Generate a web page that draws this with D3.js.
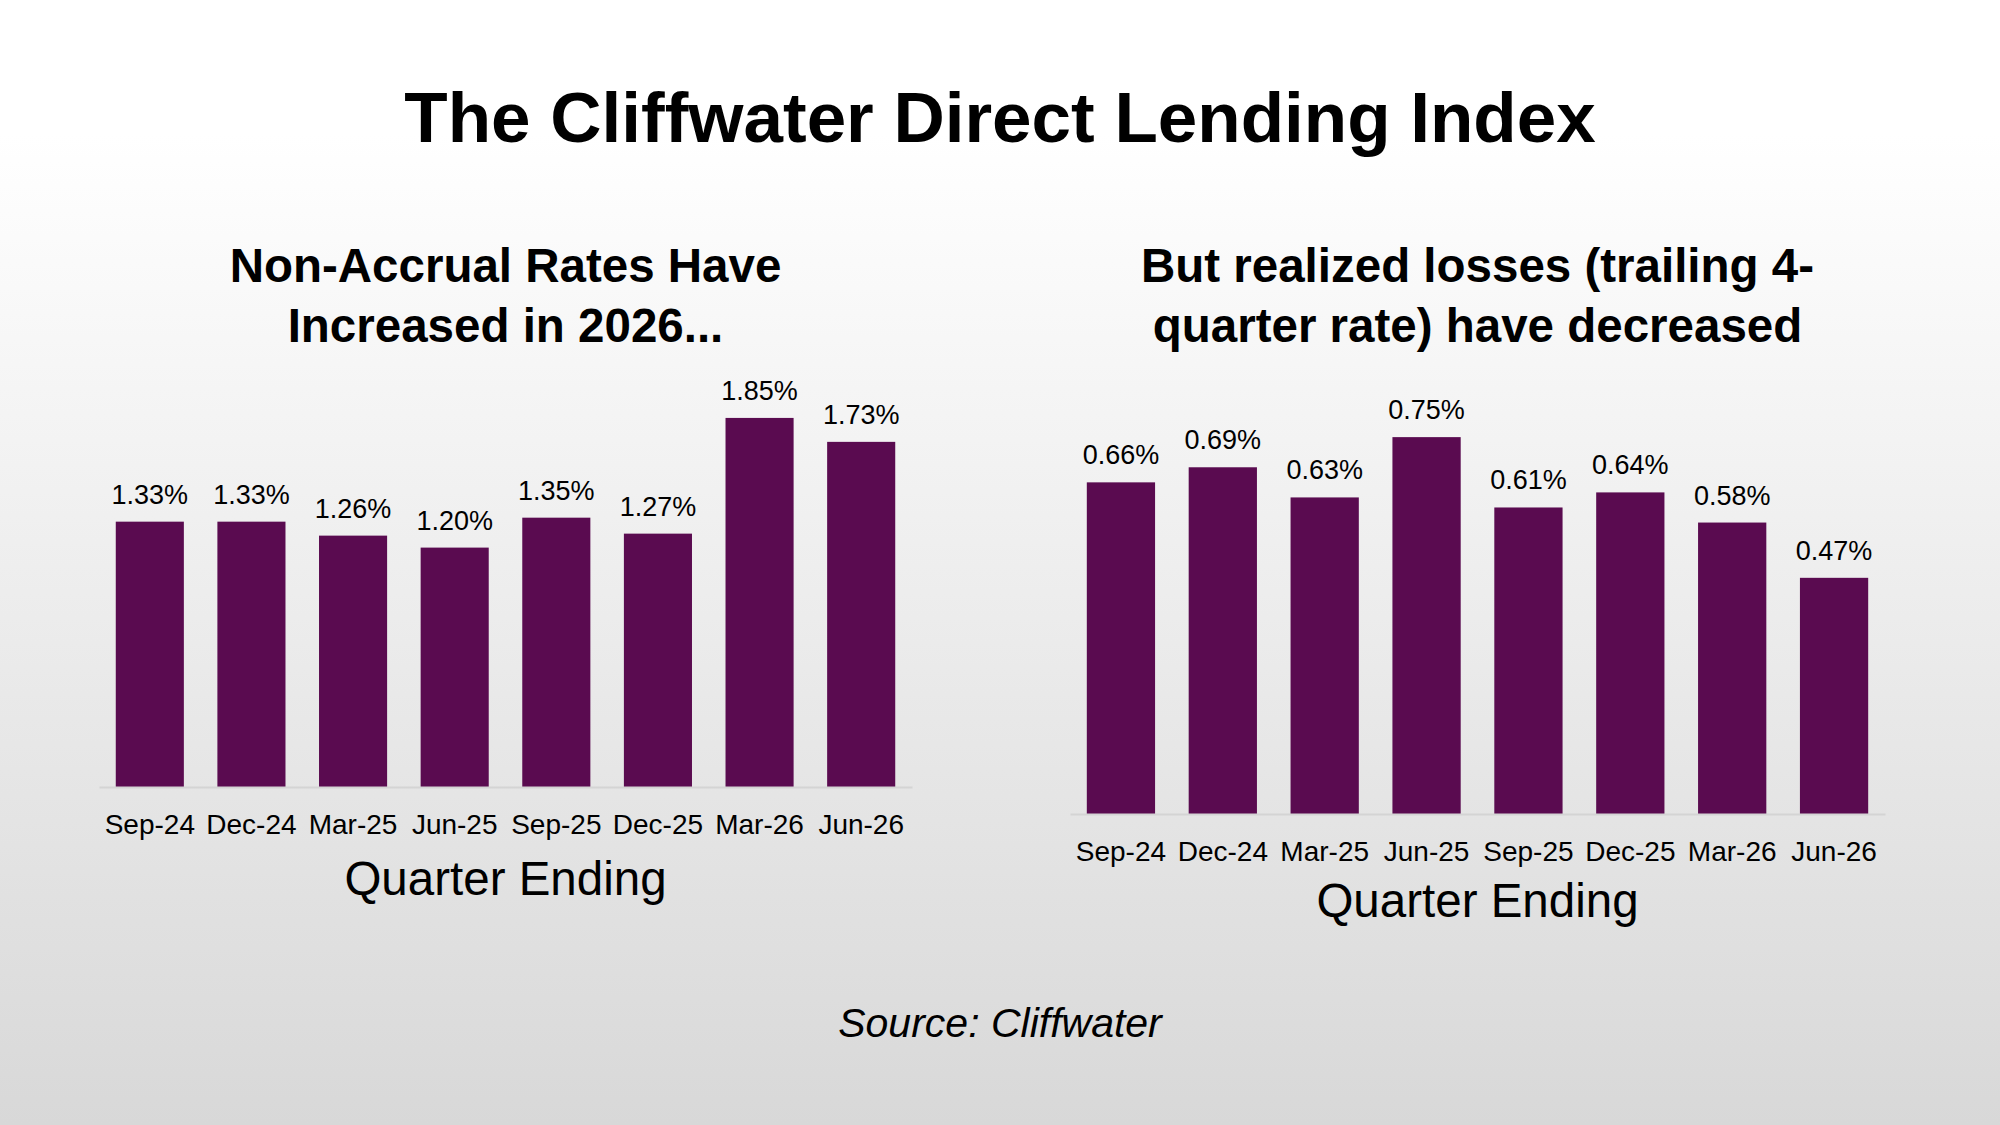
<!DOCTYPE html>
<html>
<head>
<meta charset="utf-8">
<script src="https://cdn.jsdelivr.net/npm/d3@7"></script>
<style>
  html, body { margin: 0; padding: 0; }
  body { width: 2000px; height: 1125px; overflow: hidden; }
  svg { display: block; font-family: "Liberation Sans", Arial, sans-serif; }
</style>
</head>
<body>
<svg id="chart" width="2000" height="1125"></svg>
<script>
// ---- data ----
const quarters = ["Sep-24", "Dec-24", "Mar-25", "Jun-25", "Sep-25", "Dec-25", "Mar-26", "Jun-26"];
const nonAccrualRates = [1.33, 1.33, 1.26, 1.20, 1.35, 1.27, 1.85, 1.73];
const realizedLosses = [0.66, 0.69, 0.63, 0.75, 0.61, 0.64, 0.58, 0.47];
const mainTitle = "The Cliffwater Direct Lending Index";
const leftTitle = ["Non-Accrual Rates Have", "Increased in 2026..."];
const rightTitle = ["But realized losses (trailing 4-", "quarter rate) have decreased"];
const axisTitle = "Quarter Ending";
const sourceText = "Source: Cliffwater";

// ---- layout ----
const W = 2000, H = 1125;
const barColor = "#5a0b50";
const svg = d3.select("#chart");

const defs = svg.append("defs");
const grad = defs.append("linearGradient").attr("id", "bg").attr("x1", 0).attr("y1", 0).attr("x2", 0).attr("y2", 1);
grad.append("stop").attr("offset", "0%").attr("stop-color", "#ffffff");
grad.append("stop").attr("offset", "12%").attr("stop-color", "#ffffff");
grad.append("stop").attr("offset", "100%").attr("stop-color", "#d8d8d8");
svg.append("rect").attr("width", W).attr("height", H).attr("fill", "url(#bg)");

svg.append("text")
  .attr("x", 1000).attr("y", 142)
  .attr("text-anchor", "middle")
  .attr("font-size", 71).attr("font-weight", "bold").attr("fill", "#000")
  .text(mainTitle);

svg.append("text")
  .attr("x", 1000).attr("y", 1037)
  .attr("text-anchor", "middle")
  .attr("font-size", 41).attr("font-style", "italic").attr("fill", "#000")
  .text(sourceText);

function drawPanel(cfg) {
  const x = d3.scaleBand().domain(quarters).range([cfg.x0, cfg.x1])
    .paddingInner(0.33).paddingOuter(0.165);
  const y = d3.scaleLinear().domain([0, cfg.yMax]).range([cfg.base, cfg.top]);
  const g = svg.append("g");

  // panel title
  const t = g.append("text")
    .attr("x", (cfg.x0 + cfg.x1) / 2).attr("y", 282)
    .attr("text-anchor", "middle")
    .attr("font-size", 47.5).attr("font-weight", "bold").attr("fill", "#000");
  cfg.title.forEach((line, i) => {
    t.append("tspan").attr("x", (cfg.x0 + cfg.x1) / 2).attr("y", 282 + i * 60).text(line);
  });

  // bars
  g.selectAll("rect.bar").data(cfg.values).join("rect")
    .attr("class", "bar")
    .attr("x", (d, i) => x(quarters[i]))
    .attr("width", x.bandwidth())
    .attr("y", d => y(d))
    .attr("height", d => y(0) - y(d))
    .attr("fill", barColor);

  // data labels
  g.selectAll("text.lbl").data(cfg.values).join("text")
    .attr("class", "lbl")
    .attr("x", (d, i) => x(quarters[i]) + x.bandwidth() / 2)
    .attr("y", d => y(d) - 18)
    .attr("text-anchor", "middle")
    .attr("font-size", 27).attr("fill", "#000")
    .text(d => d.toFixed(2) + "%");

  // x axis
  const ax = g.append("g")
    .attr("transform", `translate(0,${cfg.base})`)
    .call(d3.axisBottom(x).tickSize(0).tickPadding(0));
  ax.select(".domain").attr("stroke", "#d4d4d4").attr("stroke-width", 2);
  ax.selectAll(".tick text")
    .attr("y", 47).attr("dy", null)
    .attr("font-family", "\"Liberation Sans\", Arial, sans-serif")
    .attr("font-size", 28).attr("fill", "#000");

  g.append("text")
    .attr("x", (cfg.x0 + cfg.x1) / 2).attr("y", cfg.axisTitleY)
    .attr("text-anchor", "middle")
    .attr("font-size", 47.5).attr("fill", "#000")
    .text(axisTitle);
}

drawPanel({ values: nonAccrualRates, title: leftTitle, x0: 99, x1: 912, base: 787, top: 388, yMax: 2.0, axisTitleY: 895 });
drawPanel({ values: realizedLosses, title: rightTitle, x0: 1070, x1: 1885, base: 814, top: 412, yMax: 0.8, axisTitleY: 917 });
</script>
</body>
</html>
